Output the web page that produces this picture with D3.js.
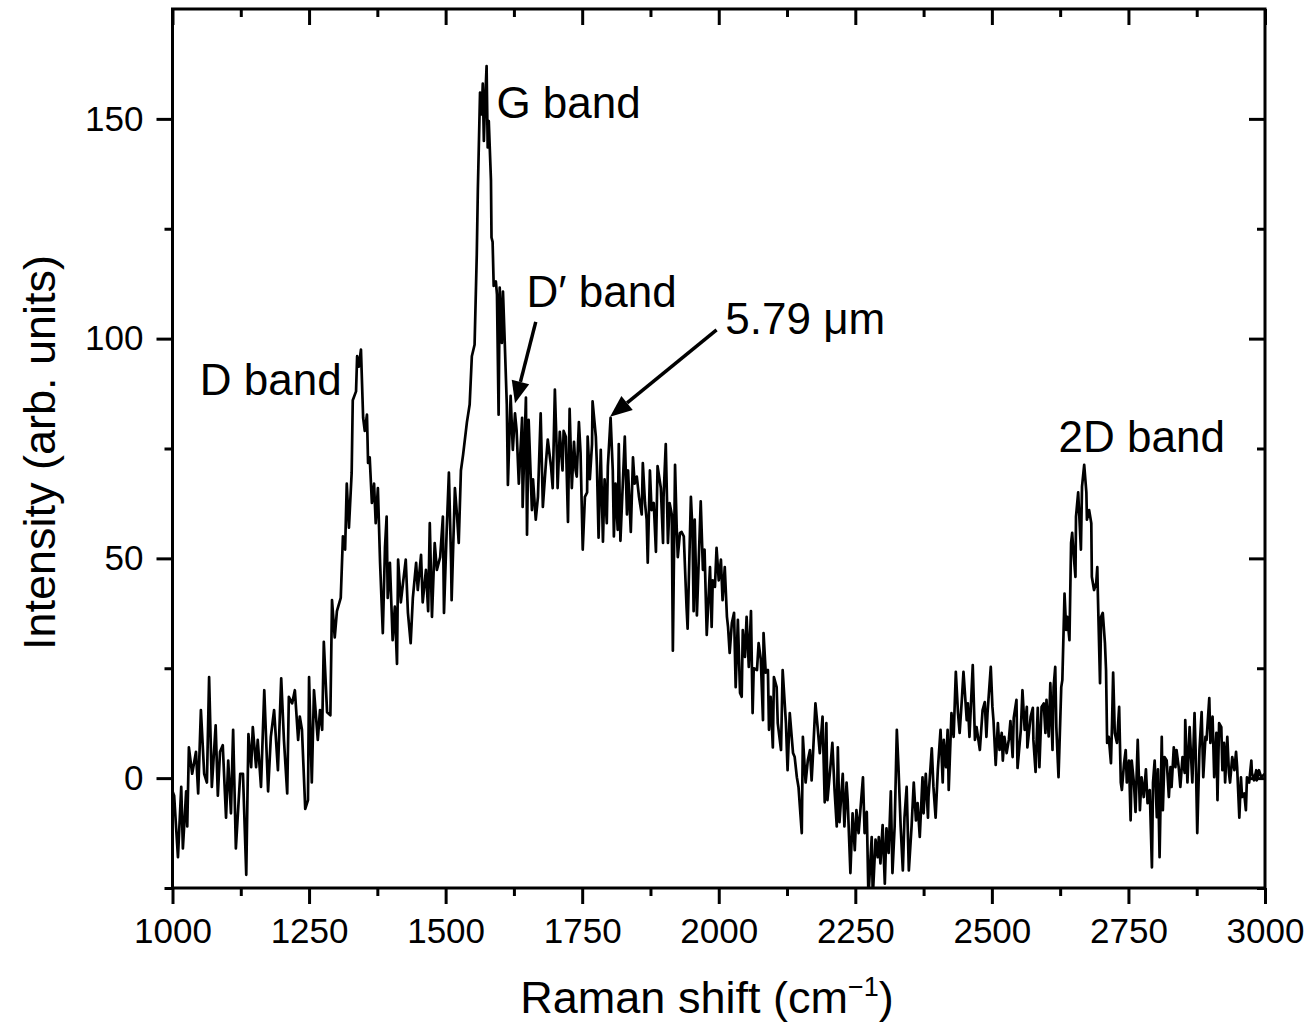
<!DOCTYPE html>
<html>
<head>
<meta charset="utf-8">
<script src="https://cdn.jsdelivr.net/npm/d3@7"></script>
<style>
  html, body { margin: 0; padding: 0; background: #fff; }
  svg { display: block; }
  text { font-family: "Liberation Sans", Arial, sans-serif; fill: #000; }
</style>
</head>
<body>
<svg id="chart" width="1309" height="1027"></svg>
<script>
// ---------------- data ----------------
const shift = [
1000,1003,1010,1016,1019,1025,1027,1030,1036,1043,1047,1052,1058,1063,1067,1072,1079,1083,1087,1092,
1098,1102,1107,1111,1116,1124,1129,1135,1139,1144,1147,1153,1156,1162,1168,1175,1180,1186,1193,1199,
1204,1210,1213,1219,1224,1230,1233,1237,1243,1248,1250,1255,1259,1266,1270,1274,1277,1283,1289,
1292,1297,1301,1308,1312,1316,1319,1323,1328,1330,1336,1338,1341,1345,1349,1352,1356,1358,1361,1365,
1369,1372,1376,1380,1385,1389,1392,1394,1398,1403,1407,1411,1413,1418,1422,1427,1431,1436,1440,1446,
1449,1455,1458,1464,1468,1471,1475,1480,1484,1490,1495,1497,1502,1506,1510,1511,1517,1521,1524,1528,
1532,1539,1544,1548,1553,1557,1559,1563,1566,1568,1570,1572,1575,1577,1579,1583,1584,1586,1588,1592,
1594,1597,1599,1603,1605,1608,1612,
1614,1619,1623,1627,1630,1634,1640,1641,1647,1649,1652,1658,1660,1665,1669,1674,1678,1684,1687,1693,
1696,1700,1704,1705,1709,1714,1716,1720,1724,1727,1731,1735,1738,1740,1744,1747,1751,1755,1759,1760,
1764,1768,1769,1775,1777,1780,1784,1788,1791,1795,1797,1802,1806,1808,1811,1815,1817,1820,1824,1828,
1832,1834,1839,1843,1846,1850,1854,1859,1861,1865,1868,1870,1874,1877,1881,1885,1888,1894,1898,1899,
1903,1907,1910,1914,1916,1920,1923,1925,1929,
1932,1936,1941,1943,1949,1952,1954,1956,1960,1967,1971,1974,1978,1984,1987,1989,1993,1996,2000,2004,
2007,2011,2015,2017,2020,2024,2028,2031,2035,2039,2042,2044,2048,2051,2055,2059,2062,2064,2070,2073,
2077,2081,2082,2086,2090,2092,2095,2099,2101,2106,2108,2114,2117,2123,2126,2130,2136,2139,2143,2146,
2152,2154,2159,2163,2167,2170,2172,2177,2181,2185,2190,2194,2197,2199,2205,2208,2212,2216,2218,2221,
2227,2230,2234,2236,2241,2245,2249,2252,2256,
2264,2267,2271,2274,2280,2282,2287,2291,2293,2296,2300,2304,2307,2311,2315,2318,2322,2326,2329,2333,
2337,2340,2344,2348,2353,2357,2361,2364,2368,2373,2375,2379,2383,2384,2390,2393,2397,2401,2406,2410,
2412,2416,2419,2421,2426,2430,2434,2438,2441,2445,2448,2454,2456,2459,2465,2469,2472,2478,2483,2487,
2490,2492,2498,2501,2503,2507,2511,2514,2518,2520,2523,2527,2531,2534,2538,2540,2545,2547,2553,2556,
2560,2564,2565,2571,2575,2576,2580,2584,
2587,2591,2595,2598,2600,2604,2607,2611,2613,2616,2618,2622,2627,2629,2633,2636,2638,2642,2645,2647,
2649,2653,2654,2658,2663,2665,2669,2673,2674,2678,2682,2683,2687,2691,2693,2694,2698,2700,2703,2707,
2709,2711,2714,2718,2720,2722,2725,2729,2733,2736,2738,2742,2745,2747,2751,2754,2756,2760,2763,2767,
2771,2774,2778,2782,2785,2789,2793,2795,2798,2802,2804,2807,2811,2813,2816,2820,2824,2827,2829,2833,
2836,2838,2842,2845,2849,2853,2854,2858,2862,2865,2867,2871,2873,2876,2880,2884,2887,2891,2893,2898,
2900,2904,2907,2911,2913,2916,2920,2922,2925,2927,2931,2934,2936,2940,2944,2947,2949,2953,2956,2958,
2962,2965,2967,2971,2975,2976,2980,2984,2985,2989,2993,3000
];
const intensity = [
-3,-4,-18,-2,-16,-3,-11,7,1,6,-3.5,15.5,1,-1,23,-2,12,-4,6,7.5,
-9,4,-8,11,-16,1,1,-22,10,2.5,11.6,2.5,8.7,-2,20,-3,9.4,15.5,1.8,22.7,
8.7,-3.5,18.5,17,20,8.7,14,11,-7,-5,23,-1,20,8.7,15.5,11,31,15,14.3,
40.5,32,38,41,55,52,67,57,69.5,86,88,96,93.6,97.5,82,79,82.7,71.7,73,62.6,
67,58,66,49,33,52.6,59.5,41,49,31.4,39,26,49.7,40,44.4,49.7,37.6,30.7,41,49,
42.8,50.8,40,47.4,38,58,36.7,53.5,47.4,50.3,59.5,37.6,56.5,69.5,49,40.5,66,59.5,53.5,70,
73.6,81,85,96,98.6,119,134,156,151,158,145,153,162,143.5,149.5,136,123,122,112,113,
110,82.7,111.6,99,110.7,100,85,
66.7,87,74.7,83,79,67,82,61.7,86.6,55.4,81.5,61,68,58.8,64,83,61.7,72.4,77,70.8,
66,88.4,72,66,78.8,70,79,77.7,58.3,84,66,76.5,70,68.6,81,74,52,64,65,77.7,
68,76,85.7,77.7,71,54.7,74.7,53.8,68,58,71,82,70,55,67,56.5,76,54,66,77.7,
60,70,56,73,67,68.6,64,60,71.7,62.6,58.8,49,70,61,62.6,51.5,71,66,53.5,64,
76,53.5,62.6,60,29,71.3,57,50.3,55.8,
56,55,39,34,64,56,38,58.8,37,63,47.4,52,32.6,48,34.4,45,43.5,52.4,45,49.7,
40.5,48,36.7,34.4,28.5,35.3,37.6,20.7,36,19.4,18.5,33.7,27.6,36.7,25.3,38,14.8,25,24.6,30.7,
27,13.2,33,24,24.6,11,18.5,7,23,20.7,12.5,6.4,24.6,12.5,1.8,14.8,5.7,4.8,0.2,-2,
-12.5,9.4,-1,4,6.4,-0.5,4,17,11.6,5.7,14,-5.5,12.5,-5,3.4,8,-2.7,-11,7,-10,
1,-11,-1,-5,-21.6,-8,-16.4,-7.3,-12.5,
0.2,-12.5,-7.7,-27,-13.4,-27,-14,-18,-13.4,-19.4,-10.7,-24,-11.4,-17,-3,-21.6,-11,11,2.5,-11,
-21,-9,-2,-21,-11,-1,-9.6,-5.7,-13.4,0.2,-8,1,-9,-4.3,6.8,-2,-9,1.8,11,-1,
8.7,2.5,11,-2.7,14.8,9.4,24.2,14.8,10.3,17.8,24.2,13.2,17,9.4,25.7,8.7,11.6,6.4,15.5,17.3,
9.4,14.8,25.3,16.2,13,3,12.5,6.4,10.3,4,9.4,5.7,8.7,13,4.8,13.7,17.8,2.3,11,20,
11,16.2,7,14,16,8.7,1.4,16,
2.5,16.2,17,10.3,17.8,9.5,21.6,6.4,20.7,25.3,11.6,0.2,20.7,22.3,42,33.7,36.7,31.4,53.5,55.8,
52,45.8,59.5,65,52,66.3,71.3,65,58.8,61,58,45.8,42.8,44.4,48,42,21.6,36.7,37.6,30.7,
24.6,8,9.4,3.4,12.5,24,10.3,8,16.2,-1,-2.7,3.4,6.4,-1,4,-9.6,4,-1,-7.7,8.7,
-7.3,0.2,-4.3,2,-5.7,-2.7,-20.3,-1,4,-8.9,2,-18,9.4,-7.3,4.8,4,-4.3,2.5,-2,7,
2.5,6.4,2.5,-2,4.8,1.2,13.2,-1,11.6,4,-1,14.8,6.4,-12.5,6.4,15,0.2,9.4,8.7,18.2,
8,14,0.2,10.3,-5,12.5,11.6,1.8,8,-1,9.4,1.2,-1,4.8,1.8,6,2.5,-9,0.2,-4.3,
-3.5,-7.3,0.2,-1,4,1.2,-0.5,1.8,-0.5,1.8,0.2,1
];
const xTicks = [1000, 1250, 1500, 1750, 2000, 2250, 2500, 2750, 3000];
const yTicks = [0, 50, 100, 150];
const xDomain = [1000, 3000];
const yDomain = [-25, 175];

// annotations (data units)
const labels = [
  { text: "D band",  x: 1050, y: 87.2 },
  { text: "G band",  x: 1593, y: 150.3 },
  { text: "D\u2032 band", x: 1648, y: 107.3 },
  { text: "5.79 \u03bcm", x: 2012, y: 101.1 },
  { text: "2D band", x: 2622, y: 74.2 }
];
const arrows = [
  { x1: 1665, y1: 103.8, x2: 1627, y2: 85.3 },
  { x1: 1996, y1: 102.0, x2: 1801, y2: 82.2 }
];

// ---------------- layout ----------------
const L = 172.5, R = 1265, T = 9, B = 888;
const svg = d3.select("#chart");
const x = d3.scaleLinear().domain(xDomain).range([L, R]);
const y = d3.scaleLinear().domain(yDomain).range([B, T]);

svg.append("defs").append("clipPath").attr("id", "clip")
  .append("rect").attr("x", L).attr("y", T).attr("width", R - L).attr("height", B - T);

// spectrum
const pts = shift.map((s, i) => [s, intensity[i]]);
svg.append("path")
  .datum(pts)
  .attr("clip-path", "url(#clip)")
  .attr("fill", "none")
  .attr("stroke", "#000")
  .attr("stroke-width", 2.7)
  .attr("stroke-linejoin", "round")
  .attr("d", d3.line().x(d => x(d[0])).y(d => y(d[1])));

// axes
const xMinor = d3.range(1125, 3000, 250);
const yMinor = [-25, 25, 75, 125];
const fontTick = 35;

function styleAxis(g) {
  g.select(".domain").remove();
  g.selectAll(".tick line").attr("stroke", "#000").attr("stroke-width", 3);
  g.selectAll(".tick text").attr("font-size", fontTick).attr("fill", "#000")
    .style("font-family", "'Liberation Sans', Arial, sans-serif");
}

// bottom
svg.append("g").attr("transform", `translate(0,${B})`)
  .call(d3.axisBottom(x).tickValues(xTicks).tickSize(16).tickPadding(14).tickFormat(d3.format("d")))
  .call(styleAxis);
svg.append("g").attr("transform", `translate(0,${B})`)
  .call(d3.axisBottom(x).tickValues(xMinor).tickSize(8).tickFormat(""))
  .call(styleAxis);
// top (inward)
svg.append("g").attr("transform", `translate(0,${T})`)
  .call(d3.axisBottom(x).tickValues(xTicks).tickSize(16).tickFormat(""))
  .call(styleAxis);
svg.append("g").attr("transform", `translate(0,${T})`)
  .call(d3.axisBottom(x).tickValues(xMinor).tickSize(8).tickFormat(""))
  .call(styleAxis);
// left
svg.append("g").attr("transform", `translate(${L},0)`)
  .call(d3.axisLeft(y).tickValues(yTicks).tickSize(16).tickPadding(13).tickFormat(d3.format("d")))
  .call(styleAxis);
svg.append("g").attr("transform", `translate(${L},0)`)
  .call(d3.axisLeft(y).tickValues(yMinor).tickSize(8).tickFormat(""))
  .call(styleAxis);
// right (inward)
svg.append("g").attr("transform", `translate(${R},0)`)
  .call(d3.axisLeft(y).tickValues(yTicks).tickSize(16).tickFormat(""))
  .call(styleAxis);
svg.append("g").attr("transform", `translate(${R},0)`)
  .call(d3.axisLeft(y).tickValues(yMinor).tickSize(8).tickFormat(""))
  .call(styleAxis);

// frame
svg.append("rect").attr("x", L).attr("y", T).attr("width", R - L).attr("height", B - T)
  .attr("fill", "none").attr("stroke", "#000").attr("stroke-width", 3);

// axis titles
const xt = svg.append("text").attr("x", 707).attr("y", 1013)
  .attr("text-anchor", "middle").attr("font-size", 45);
xt.append("tspan").text("Raman shift (cm");
xt.append("tspan").attr("font-size", 27).attr("dy", -17).text("\u22121");
xt.append("tspan").attr("dy", 17).text(")");

svg.append("text")
  .attr("transform", `translate(55,${(T + B) / 2 + 4}) rotate(-90)`)
  .attr("text-anchor", "middle").attr("font-size", 45)
  .text("Intensity (arb. units)");

// annotations
svg.selectAll(".lbl").data(labels).enter().append("text")
  .attr("class", "lbl")
  .attr("x", d => x(d.x)).attr("y", d => y(d.y))
  .attr("font-size", 44)
  .text(d => d.text);

arrows.forEach(a => {
  const x1 = x(a.x1), y1 = y(a.y1), x2 = x(a.x2), y2 = y(a.y2);
  const dx = x2 - x1, dy = y2 - y1, len = Math.hypot(dx, dy);
  const ux = dx / len, uy = dy / len;
  const hl = 22, hw = 9;
  const bx = x2 - ux * hl, by = y2 - uy * hl;
  svg.append("line").attr("x1", x1).attr("y1", y1).attr("x2", bx).attr("y2", by)
    .attr("stroke", "#000").attr("stroke-width", 3.5);
  svg.append("polygon")
    .attr("points", [[x2, y2], [bx - uy * hw, by + ux * hw], [bx + uy * hw, by - ux * hw]].map(p => p.join(",")).join(" "))
    .attr("fill", "#000");
});
</script>
</body>
</html>
